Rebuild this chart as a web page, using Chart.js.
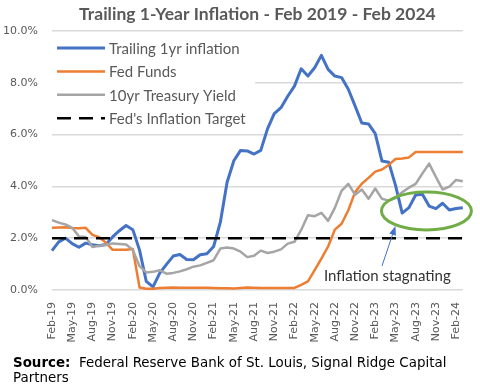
<!DOCTYPE html>
<html>
<head>
<meta charset="utf-8">
<title>Trailing 1-Year Inflation</title>
<script src="https://cdn.jsdelivr.net/npm/chart.js"></script>
<style>
  body { margin: 0; background: #fff; }
</style>
</head>
<body>
<canvas id="inflationChart" width="480" height="390"></canvas>
<script>
const months = [
  'Feb-19','Mar-19','Apr-19','May-19','Jun-19','Jul-19','Aug-19','Sep-19','Oct-19','Nov-19','Dec-19',
  'Jan-20','Feb-20','Mar-20','Apr-20','May-20','Jun-20','Jul-20','Aug-20','Sep-20','Oct-20','Nov-20','Dec-20',
  'Jan-21','Feb-21','Mar-21','Apr-21','May-21','Jun-21','Jul-21','Aug-21','Sep-21','Oct-21','Nov-21','Dec-21',
  'Jan-22','Feb-22','Mar-22','Apr-22','May-22','Jun-22','Jul-22','Aug-22','Sep-22','Oct-22','Nov-22','Dec-22',
  'Jan-23','Feb-23','Mar-23','Apr-23','May-23','Jun-23','Jul-23','Aug-23','Sep-23','Oct-23','Nov-23','Dec-23',
  'Jan-24','Feb-24','Mar-24'
];

// trailing 1yr CPI inflation, %
const inflation = [
  1.52,1.86,2.00,1.79,1.65,1.81,1.75,1.71,1.76,2.05,2.29,
  2.49,2.33,1.54,0.33,0.12,0.65,0.99,1.31,1.37,1.18,1.17,1.36,
  1.40,1.68,2.62,4.16,4.99,5.39,5.37,5.25,5.39,6.22,6.81,7.04,
  7.48,7.87,8.54,8.26,8.58,9.06,8.52,8.26,8.20,7.75,7.11,6.45,
  6.41,6.04,4.98,4.93,4.05,2.97,3.18,3.67,3.70,3.24,3.14,3.35,
  3.09,3.15,3.18
];

const fedFunds = [
  2.40,2.41,2.42,2.39,2.38,2.40,2.13,2.04,1.83,1.55,1.55,
  1.55,1.58,0.10,0.05,0.05,0.08,0.09,0.10,0.09,0.09,0.09,0.09,
  0.09,0.08,0.07,0.07,0.06,0.08,0.10,0.09,0.08,0.08,0.08,0.08,
  0.08,0.08,0.20,0.33,0.77,1.21,1.68,2.33,2.56,3.08,3.78,4.10,
  4.33,4.57,4.65,4.83,5.06,5.08,5.12,5.33,5.33,5.33,5.33,5.33,
  5.33,5.33,5.33
];

const treasury10y = [
  2.70,2.60,2.53,2.40,2.07,2.05,1.66,1.71,1.74,1.80,1.78,
  1.76,1.55,0.92,0.68,0.70,0.76,0.63,0.66,0.72,0.80,0.90,0.95,
  1.05,1.15,1.60,1.64,1.60,1.48,1.27,1.32,1.52,1.43,1.48,1.57,
  1.79,1.86,2.32,2.89,2.85,2.98,2.67,3.17,3.83,4.10,3.68,3.88,
  3.52,3.92,3.52,3.45,3.55,3.78,3.95,4.10,4.50,4.88,4.37,3.88,
  3.99,4.25,4.20
];

const inflationTarget = 2.0;
const yTicks = [0, 2, 4, 6, 8, 10];

const sourceLabel = 'Source:';
const sourceLines = ['  Federal Reserve Bank of St. Louis, Signal Ridge Capital', 'Partners'];

// callout: ellipse round the 2023-24 readings, arrow and note (data coords)
const callout = { cx: 55.6, cy: 3.05, rx: 45, ry: 19,
  arrowFrom: [49.0, 0.93], arrowTo: [51.0, 2.47],
  text: 'Inflation stagnating', textAt: [49.8, 0.35] };

// pick a wide Verdana-like face that is really there
function hasFont(name) {
  const c = document.createElement('canvas').getContext('2d');
  const probe = 'mmmmmmmmmmlliWW0%';
  return ['monospace', 'serif'].every(fb => {
    c.font = '100px ' + fb;
    const base = c.measureText(probe).width;
    c.font = '100px "' + name + '", ' + fb;
    return c.measureText(probe).width !== base;
  });
}
const sansFont = ['DejaVu Sans', 'Verdana', 'Bitstream Vera Sans', 'Open Sans', 'Noto Sans'].find(hasFont) || 'sans-serif';
const sansStack = '"' + sansFont + '", sans-serif';

const legendBox = {
  id: 'legendBox',
  afterDatasetsDraw(chart) {
    const ctx = chart.ctx, a = chart.chartArea;
    ctx.save();
    ctx.fillStyle = '#fff';
    ctx.fillRect(a.left, a.top + 4, 203, 96);
    ctx.font = '15px Lato';
    ctx.textBaseline = 'middle';
    chart.data.datasets.forEach((ds, i) => {
      const y = a.top + 17 + i * 23.4;
      ctx.strokeStyle = ds.borderColor;
      ctx.lineWidth = ds.borderWidth;
      ctx.setLineDash(ds.borderDash || []);
      ctx.beginPath();
      ctx.moveTo(a.left + 5, y);
      ctx.lineTo(a.left + 53, y);
      ctx.stroke();
      ctx.setLineDash([]);
      ctx.fillStyle = '#595959';
      ctx.fillText(ds.label, a.left + 57, y + 1);
    });
    ctx.restore();
  }
};

const annotate = {
  id: 'annotate',
  afterDraw(chart) {
    const ctx = chart.ctx, x = chart.scales.x, y = chart.scales.y;
    ctx.save();
    ctx.strokeStyle = '#70AD47';
    ctx.lineWidth = 3;
    ctx.beginPath();
    ctx.ellipse(x.getPixelForValue(callout.cx), y.getPixelForValue(callout.cy),
      callout.rx, callout.ry, 0, 0, Math.PI * 2);
    ctx.stroke();

    const x0 = x.getPixelForValue(callout.arrowFrom[0]), y0 = y.getPixelForValue(callout.arrowFrom[1]);
    const x1 = x.getPixelForValue(callout.arrowTo[0]), y1 = y.getPixelForValue(callout.arrowTo[1]);
    const ang = Math.atan2(y1 - y0, x1 - x0);
    ctx.strokeStyle = '#4472C4';
    ctx.fillStyle = '#4472C4';
    ctx.lineWidth = 1;
    ctx.beginPath();
    ctx.moveTo(x0, y0);
    ctx.lineTo(x1 - 6 * Math.cos(ang), y1 - 6 * Math.sin(ang));
    ctx.stroke();
    ctx.beginPath();
    ctx.moveTo(x1, y1);
    ctx.lineTo(x1 - 9 * Math.cos(ang) + 3.5 * Math.sin(ang), y1 - 9 * Math.sin(ang) - 3.5 * Math.cos(ang));
    ctx.lineTo(x1 - 9 * Math.cos(ang) - 3.5 * Math.sin(ang), y1 - 9 * Math.sin(ang) + 3.5 * Math.cos(ang));
    ctx.closePath();
    ctx.fill();

    ctx.font = '15px Lato';
    ctx.fillStyle = '#333';
    ctx.textAlign = 'center';
    ctx.textBaseline = 'alphabetic';
    ctx.fillText(callout.text, x.getPixelForValue(callout.textAt[0]), y.getPixelForValue(callout.textAt[1]));

    // source note under the axis; first line should run to about x=447
    ctx.textAlign = 'left';
    ctx.fillStyle = '#000';
    let size = 11.5;
    ctx.font = 'bold ' + size + 'px ' + sansStack;
    let lw = ctx.measureText(sourceLabel).width;
    ctx.font = size + 'px ' + sansStack;
    lw += ctx.measureText(sourceLines[0]).width;
    size = Math.max(10, Math.min(13.5, size * 434 / lw));
    ctx.font = 'bold ' + size + 'px ' + sansStack;
    ctx.fillText(sourceLabel, 13, 367);
    const w = ctx.measureText(sourceLabel).width;
    ctx.font = size + 'px ' + sansStack;
    ctx.fillText(sourceLines[0], 13 + w, 367);
    ctx.fillText(sourceLines[1], 13, 382);
    ctx.restore();
  }
};

Chart.defaults.font.family = sansStack;
Chart.defaults.color = '#595959';

new Chart(document.getElementById('inflationChart'), {
  type: 'line',
  data: {
    labels: months,
    datasets: [
      { label: 'Trailing 1yr inflation', data: inflation, borderColor: '#4472C4', borderWidth: 3, order: 4 },
      { label: 'Fed Funds', data: fedFunds, borderColor: '#ED7D31', borderWidth: 2.5, order: 3 },
      { label: '10yr Treasury Yield', data: treasury10y, borderColor: '#A5A5A5', borderWidth: 2.5, order: 2 },
      { label: "Fed's Inflation Target",
        data: [{ x: months[0], y: inflationTarget }, { x: months[months.length - 1], y: inflationTarget }],
        borderColor: '#000', borderWidth: 2.5, borderDash: [14, 8], order: 1 }
    ]
  },
  options: {
    responsive: false,
    animation: false,
    devicePixelRatio: 1,
    layout: { padding: { left: 0, right: 13, top: 0, bottom: 40 } },
    elements: {
      point: { radius: 0 },
      line: { tension: 0, borderJoinStyle: 'round', borderCapStyle: 'butt', fill: false }
    },
    plugins: {
      legend: { display: false },
      tooltip: { enabled: false },
      title: {
        display: true,
        fullSize: false,
        text: 'Trailing 1-Year Inflation - Feb 2019 - Feb 2024',
        color: '#595959',
        font: { family: 'Lato', size: 17.5, weight: 'bold' },
        padding: { top: 4, bottom: 6 }
      }
    },
    scales: {
      x: {
        grid: { display: false },
        border: { display: false },
        afterFit: s => { s.height = 60; },
        ticks: {
          autoSkip: false,
          minRotation: 90,
          maxRotation: 90,
          padding: 4,
          font: { size: 11 },
          color: '#595959',
          callback: (v, i) => (i % 3 === 0 ? months[i] : '')
        }
      },
      y: {
        min: yTicks[0],
        max: yTicks[yTicks.length - 1],
        afterFit: s => { s.width = 52; },
        grid: { color: '#d9d9d9', lineWidth: 1.5, drawTicks: false },
        border: { display: false },
        afterBuildTicks: s => { s.ticks = yTicks.map(v => ({ value: v })); },
        ticks: {
          padding: 14,
          font: { size: 11 },
          color: '#595959',
          callback: v => v.toFixed(1) + '%'
        }
      }
    }
  },
  plugins: [legendBox, annotate]
});
</script>
</body>
</html>
